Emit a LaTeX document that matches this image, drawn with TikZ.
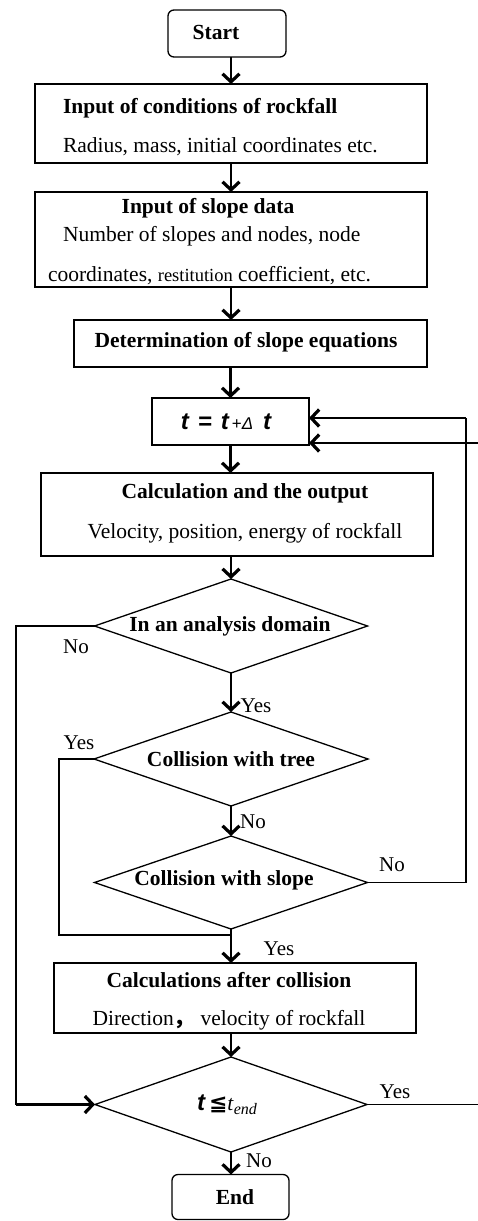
\documentclass[tikz,border=0pt]{standalone}
\usepackage{fontspec}
\setmainfont{Liberation Serif}
\newfontfamily\arialf{Liberation Sans}
\newfontfamily\dejavu{DejaVu Sans}
\newfontfamily\cjk{Noto Sans CJK SC}
\usetikzlibrary{shapes.geometric,arrows.meta}
\begin{document}
\begin{tikzpicture}[x=1pt,y=-1pt,
  font=\fontsize{21.5}{24}\selectfont,
  box/.style={draw, line width=1.3pt, inner sep=0pt, outer sep=0pt},
  rbox/.style={box, rounded corners=6pt},
  dia/.style={draw, diamond, line width=1.3pt, inner sep=0pt, outer sep=0pt},
  arr/.style={line width=2.6pt, -{Straight Barb[length=8pt,width=17pt,line width=3.2pt]}},
  arrthin/.style={line width=1.6pt, -{Straight Barb[length=8pt,width=17pt,line width=3.2pt]}},
  conn/.style={line width=1.3pt},
  txt/.style={inner sep=0pt, outer sep=0pt},
  ttl/.style={txt, font=\fontsize{21.5}{24}\selectfont\bfseries},
  lbl/.style={txt, font=\fontsize{21}{24}\selectfont}
]
\useasboundingbox (0,0) rectangle (478,1221);

% boxes
\node[rbox, minimum width=118pt, minimum height=47pt] (start) at (227,33.5) {};
\node[ttl] (startt) at (216,32) {Start};

\node[box, minimum width=392pt, minimum height=79pt] (b1) at (231,123.5) {};
\node[ttl, anchor=west] (b1t) at (63,108) {Input of conditions of rockfall};
\node[txt, anchor=west] (b1b) at (63,147) {Radius, mass, initial coordinates etc.};

\node[box, minimum width=392pt, minimum height=95pt] (b2) at (231,239.5) {};
\node[ttl] (b2t) at (208,208) {Input of slope data};
\node[txt, anchor=west] (b2b) at (63,236) {Number of slopes and nodes, node};
\node[txt, anchor=west] (b2c) at (48,276) {coordinates, {\fontsize{18.5}{20}\selectfont restitution} coefficient, etc.};

\node[box, minimum width=353pt, minimum height=47pt] (b3) at (250.5,343.5) {};
\node[ttl] (b3t) at (246,342) {Determination of slope equations};

\node[box, minimum width=157pt, minimum height=47pt] (b4) at (230.5,421.5) {};
\node[txt] (b4t) at (226,422) {{\arialf\bfseries\itshape\fontsize{24}{26}\selectfont t\hspace{9pt}=\hspace{9pt}t}\hspace{3pt}{\arialf\fontsize{17}{18}\selectfont +\textit{Δ}}\hspace{10pt}{\arialf\bfseries\itshape\fontsize{24}{26}\selectfont t}};

\node[box, minimum width=392pt, minimum height=83pt] (b5) at (237,514.5) {};
\node[ttl] (b5t) at (245,493) {Calculation and the output};
\node[txt] (b5b) at (245,533) {Velocity, position, energy of rockfall};

% diamonds
\node[dia, minimum width=273pt, minimum height=94pt] (d1) at (231,626) {};
\node[ttl] (d1t) at (230,626) {In an analysis domain};
\node[dia, minimum width=274pt, minimum height=94pt] (d2) at (231,759) {};
\node[ttl] (d2t) at (231,759) {Collision with tree};
\node[dia, minimum width=273pt, minimum height=93pt] (d3) at (231,882.5) {};
\node[ttl] (d3t) at (224,880) {Collision with slope};

\node[box, minimum width=362pt, minimum height=70pt] (b6) at (235,998) {};
\node[ttl] (b6t) at (229,980) {Calculations after collision};
\node[txt] (b6b) at (229,1020) {Direction{\cjk\bfseries ，}\ velocity of rockfall};

\node[dia, minimum width=272pt, minimum height=95pt] (d4) at (231,1104.5) {};
\node[txt] (d4t) at (227,1105) {{\arialf\bfseries\itshape\fontsize{24}{26}\selectfont t}\hspace{4pt}{\dejavu\bfseries\fontsize{22}{24}\selectfont ≦}\textit{t}\raisebox{-4pt}{\fontsize{16}{18}\selectfont\textit{end}}};

\node[rbox, minimum width=117pt, minimum height=45pt] (end) at (230.5,1197) {};
\node[ttl] (endt) at (235,1197) {End};

% main flow
\draw[arr] (b1.north |- start.south) -- (b1.north);
\draw[arr] (b1.south) -- (b1.south |- b2.north);
\draw[arr] (b2.south) -- (b2.south |- b3.north);
\draw[arr] (b4.north |- b3.south) -- (b4.north);
\draw[arr] (b4.south) -- (b4.south |- b5.north);
\draw[arr] (d1.north |- b5.south) -- (d1.north);
\draw[arr] (d1.south) -- (d2.north);
\draw[arr] (d2.south) -- (d3.north);
\draw[arr] (d3.south) -- (d3.south |- b6.north);
\draw[arr] (d4.north |- b6.south) -- (d4.north);
\draw[arr] (d4.south) -- (d4.south |- end.north);

% loops
\coordinate (lx) at (16,0);
\draw[conn] (d1.west) -- (d1.west -| lx) -- (d4.west -| lx);
\draw[arr] (d4.west -| lx) -- (d4.west);

\coordinate (j) at (231,935);
\draw[conn] (d2.west) -- (59,759) |- (j);

\coordinate (r1) at (466,418);
\draw[conn] (d3.east) -| (r1);
\draw[arrthin] (r1) -- (r1 -| b4.east);

\coordinate (e1) at (478,1104.5);
\coordinate (e2) at (478,443);
\draw[conn] (d4.east) -- (e1);
\draw[arr] (e2) -- (e2 -| b4.east);

% labels
\node[lbl] (l1) at (76,647) {No};
\node[lbl] (l2) at (256,706) {Yes};
\node[lbl] (l3) at (79,743) {Yes};
\node[lbl] (l4) at (253,822) {No};
\node[lbl] (l5) at (392,865) {No};
\node[lbl] (l6) at (279,949) {Yes};
\node[lbl] (l7) at (395,1092) {Yes};
\node[lbl] (l8) at (259,1161) {No};
\end{tikzpicture}
\end{document}
